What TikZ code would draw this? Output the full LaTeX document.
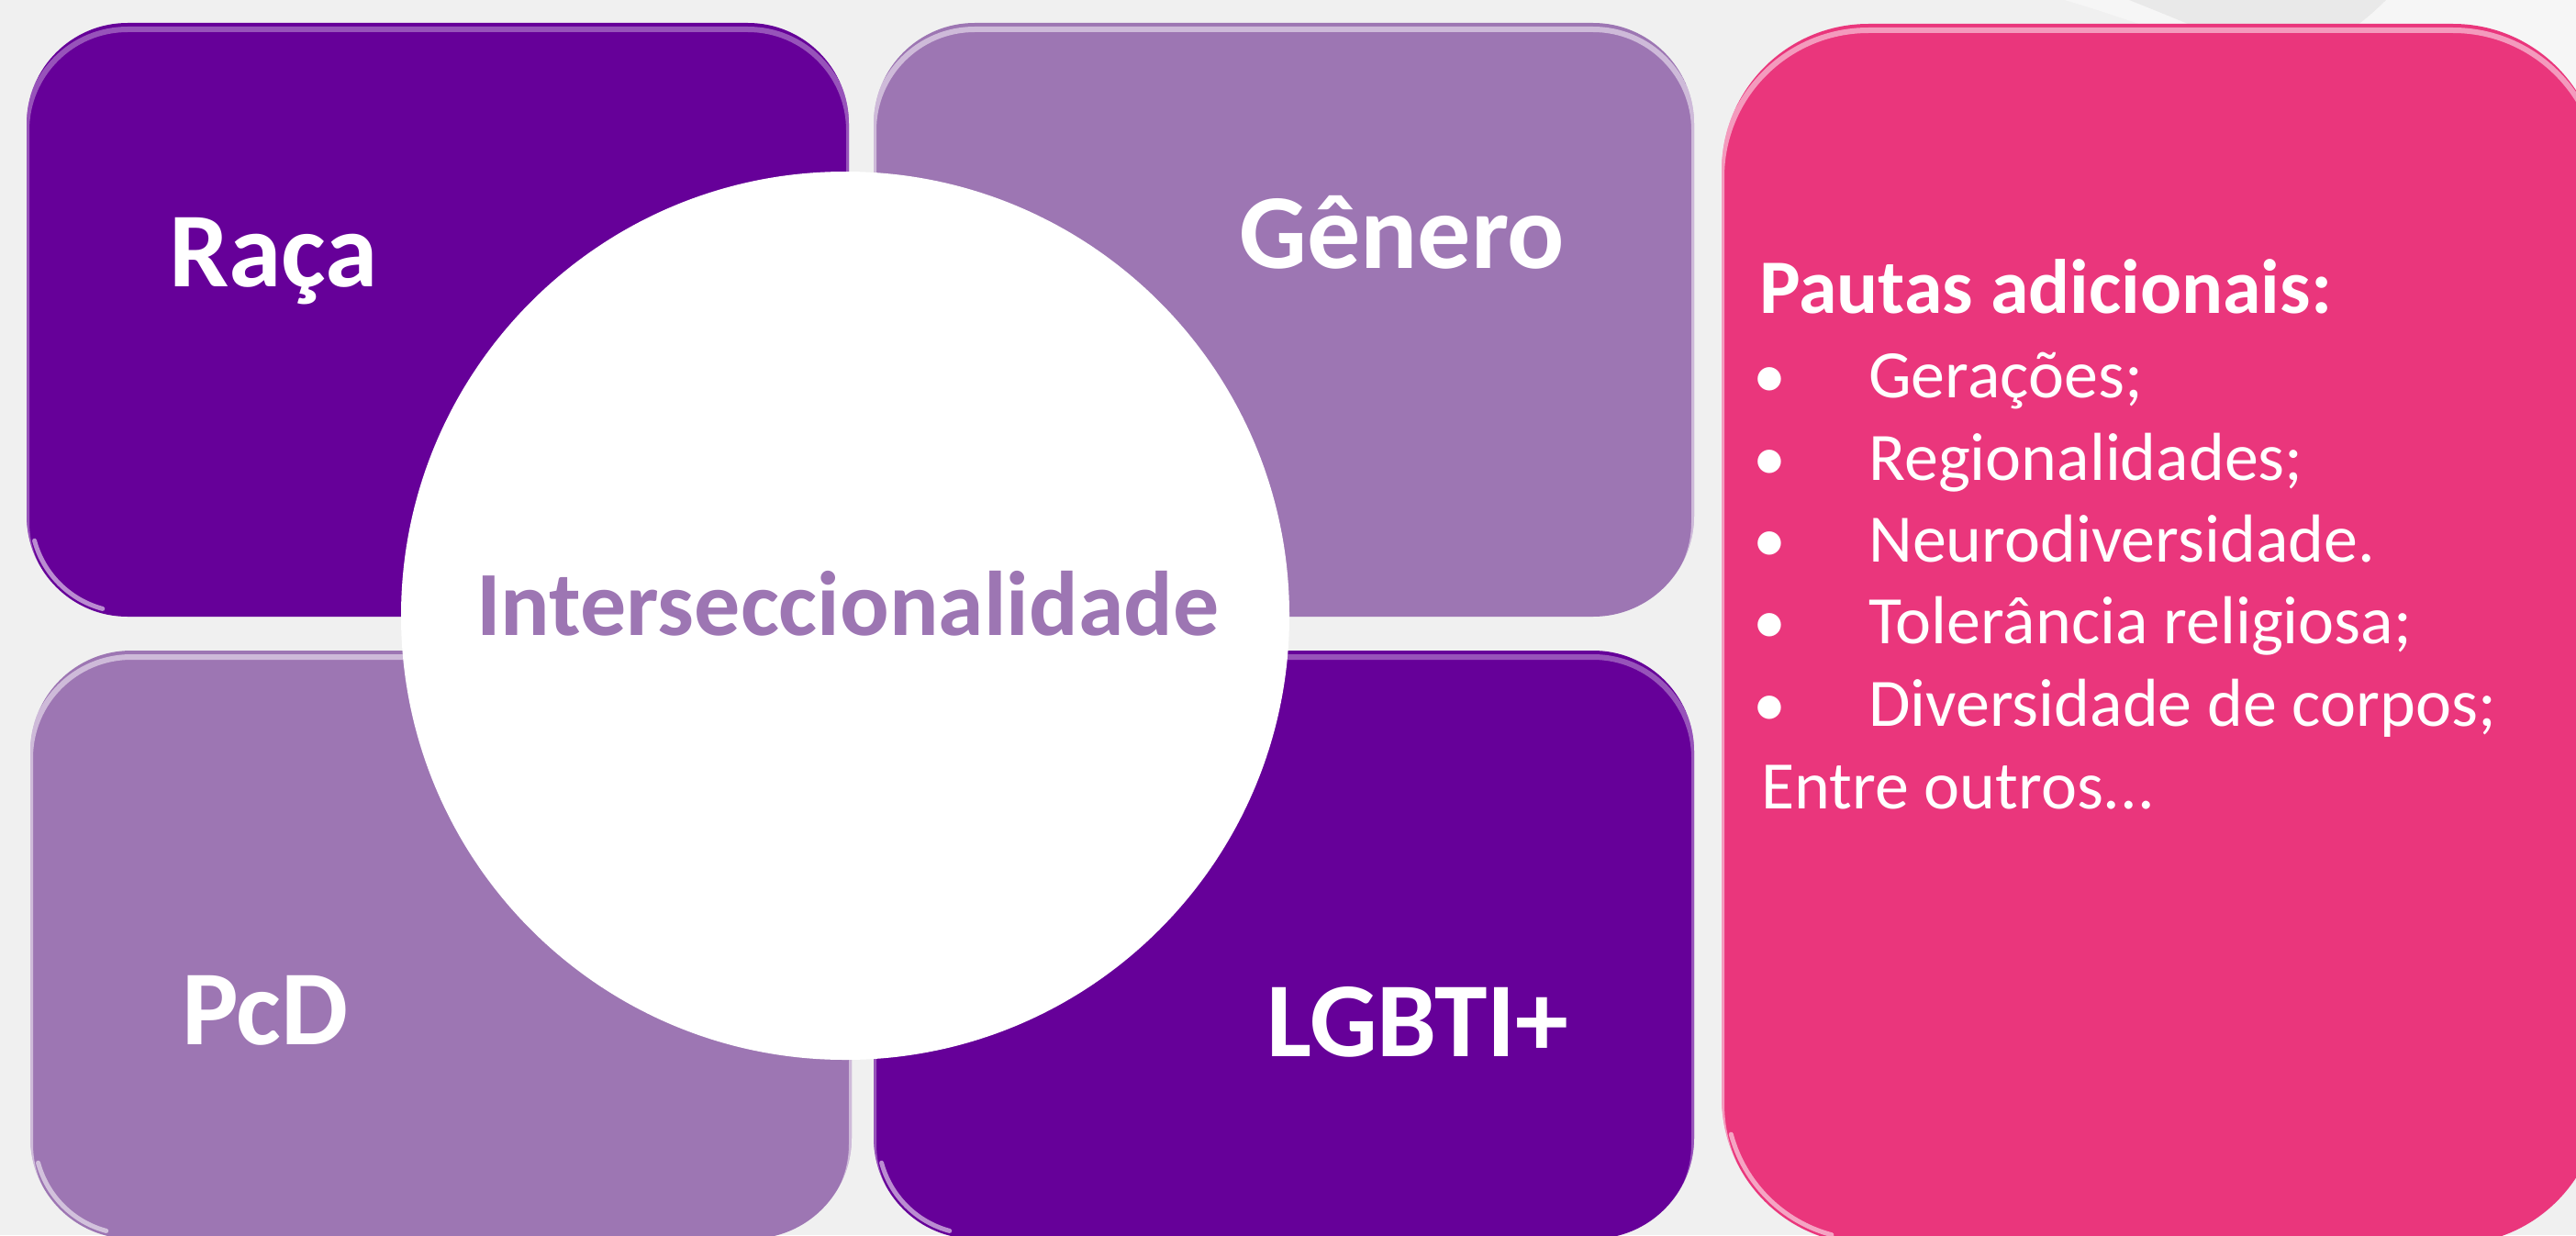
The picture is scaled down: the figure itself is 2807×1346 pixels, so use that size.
\documentclass[tikz,border=0pt]{standalone}
\usepackage{fontspec}
\setmainfont{Carlito}
\definecolor{bgc}{HTML}{F0F0F0}
\definecolor{darkpur}{HTML}{660099}
\definecolor{lightpur}{HTML}{9D76B3}
\definecolor{pinkc}{HTML}{EA367C}
\begin{document}
\begin{tikzpicture}[x=1pt,y=-1pt,
  boxbase/.style={rectangle,inner sep=0pt,outer sep=0pt,rounded corners=110pt},
  darkbox/.style={boxbase,fill=darkpur},
  lightbox/.style={boxbase,fill=lightpur},
  pinkbox/.style={rectangle,inner sep=0pt,outer sep=0pt,rounded corners=160pt,fill=pinkc},
  biglabel/.style={anchor=base west,inner sep=0pt,text=white,font=\fontsize{116}{138}\selectfont\bfseries},
  centerlabel/.style={anchor=base west,inner sep=0pt,text=lightpur,font=\fontsize{100}{120}\selectfont\bfseries},
  headlabel/.style={anchor=base west,inner sep=0pt,text=white,font=\fontsize{84}{100}\selectfont\bfseries},
  itemlabel/.style={anchor=base west,inner sep=0pt,text=white,font=\fontsize{74}{88}\selectfont},
  bulletmark/.style={anchor=base,inner sep=0pt,text=white,font=\fontsize{72}{86}\selectfont},
  hl/.style={line width=6pt,opacity=0.5},
  cornerhl/.style={line width=5pt,white,opacity=0.55,line cap=round}
]
\useasboundingbox (0,0) rectangle (2807,1346);
\clip (0,0) rectangle (2807,1346);
% background
\fill[bgc] (0,0) rectangle (2807,1346);
\fill[white,opacity=0.45] (2250,0) -- (2807,0) -- (2807,300) .. controls (2650,150) and (2450,60) .. (2250,0) -- cycle;
\fill[black,opacity=0.05] (2320,0) -- (2600,0) .. controls (2560,40) and (2520,60) .. (2480,70) .. controls (2420,40) and (2370,20) .. (2320,0) -- cycle;

% boxes
\node[darkbox,minimum width=896pt,minimum height=647pt] (raca) at (477,348.5) {};
\node[lightbox,minimum width=894pt,minimum height=647pt] (genero) at (1399,348.5) {};
\node[lightbox,minimum width=895pt,minimum height=641pt] (pcd) at (480.5,1029.5) {};
\node[darkbox,minimum width=894pt,minimum height=641pt] (lgbt) at (1399,1029.5) {};
\node[pinkbox,minimum width=957pt,minimum height=1330pt] (pautas) at (2354.5,691) {};

% top highlights (clipped shifted outlines)
\begin{scope}
  \clip[rounded corners=110pt] (29,25) rectangle (925,672);
  \draw[hl,color=darkpur!35!white,rounded corners=110pt] (29,32) rectangle (925,679);
\end{scope}
\begin{scope}
  \clip[rounded corners=110pt] (952,25) rectangle (1846,672);
  \draw[hl,color=white,rounded corners=110pt] (952,32) rectangle (1846,679);
\end{scope}
\begin{scope}
  \clip[rounded corners=110pt] (33,709) rectangle (928,1350);
  \draw[hl,color=white,rounded corners=110pt] (33,716) rectangle (928,1357);
\end{scope}
\begin{scope}
  \clip[rounded corners=110pt] (952,709) rectangle (1846,1350);
  \draw[hl,color=darkpur!35!white,rounded corners=110pt] (952,716) rectangle (1846,1357);
\end{scope}
\begin{scope}
  \clip[rounded corners=160pt] (1876,26) rectangle (2833,1356);
  \draw[hl,color=white,rounded corners=160pt] (1876,33) rectangle (2833,1363);
\end{scope}

% bottom-left corner glints
\draw[cornerhl] ([shift={(139,562)}]165:105) arc[start angle=165,end angle=105,radius=105];
\draw[cornerhl] ([shift={(1062,562)}]165:105) arc[start angle=165,end angle=105,radius=105];
\draw[cornerhl] ([shift={(143,1240)}]165:105) arc[start angle=165,end angle=105,radius=105];
\draw[cornerhl] ([shift={(1062,1240)}]165:105) arc[start angle=165,end angle=105,radius=105];
\draw[cornerhl] ([shift={(2036,1196)}]165:155) arc[start angle=165,end angle=105,radius=155];

% circle
\node[circle,fill=white,inner sep=0pt,outer sep=0pt,minimum size=968pt] (inter) at (921,671) {};

% labels
\node[biglabel] (tRaca) at (184,312) {Raça};
\node[biglabel] (tGenero) at (1350,292) {Gênero};
\node[biglabel] (tPcD) at (198,1138) {PcD};
\node[biglabel] (tLGBT) at (1380,1151) {LGBTI+};
\node[centerlabel] (tInter) at (519,692) {Interseccionalidade};

\node[headlabel] (tHead) at (1917,341.5) {Pautas adicionais:};
\node[bulletmark] (b1) at (1928,433) {•};
\node[itemlabel] (i1) at (2036,433) {Gerações;};
\node[bulletmark] (b2) at (1928,523) {•};
\node[itemlabel] (i2) at (2036,523) {Regionalidades;};
\node[bulletmark] (b3) at (1928,612) {•};
\node[itemlabel] (i3) at (2036,612) {Neurodiversidade.};
\node[bulletmark] (b4) at (1928,701) {•};
\node[itemlabel] (i4) at (2036,701) {Tolerância religiosa;};
\node[bulletmark] (b5) at (1928,791) {•};
\node[itemlabel] (i5) at (2036,791) {Diversidade de corpos;};
\node[itemlabel] (i6) at (1919,881) {Entre outros...};
\end{tikzpicture}
\end{document}
